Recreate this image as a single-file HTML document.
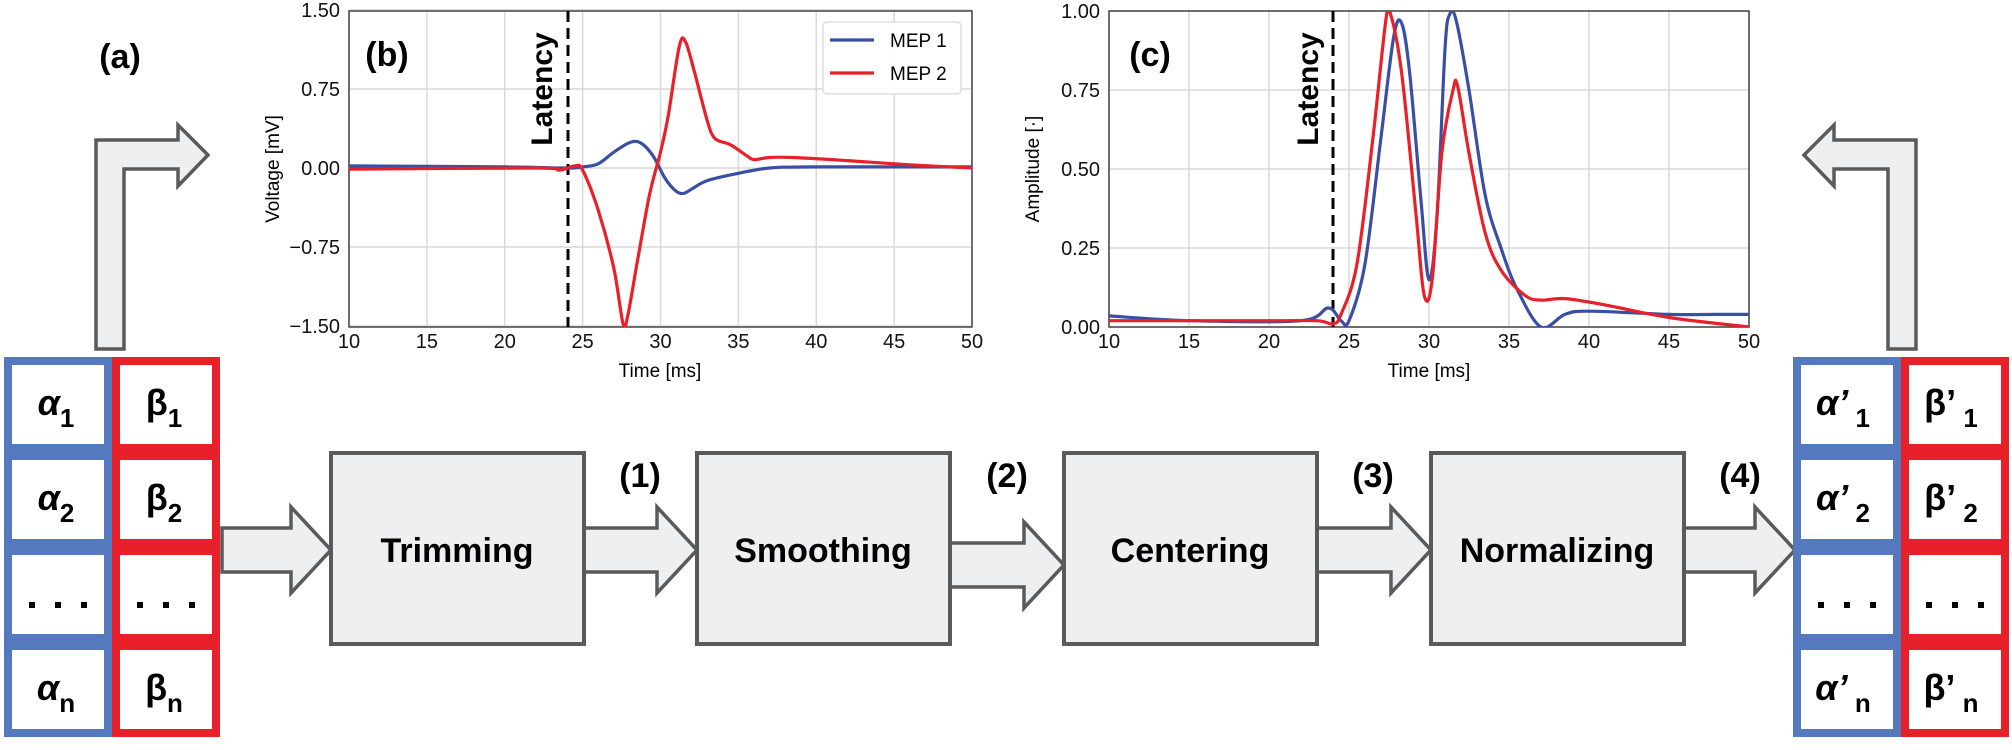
<!DOCTYPE html>
<html><head><meta charset="utf-8"><style>
html,body{margin:0;padding:0;background:#fff;}
svg{display:block;font-family:"Liberation Sans",sans-serif;}
</style></head><body>
<svg id="s" width="2012" height="750" viewBox="0 0 2012 750" xmlns="http://www.w3.org/2000/svg">
<defs>
<clipPath id="cb"><rect x="349" y="11" width="623" height="316"/></clipPath>
<clipPath id="cc"><rect x="1109" y="11" width="640" height="316"/></clipPath>
</defs>
<g id="gridb" stroke="#d9d9d9" stroke-width="1.5"></g>
<g id="gridc" stroke="#d9d9d9" stroke-width="1.5"></g>
<rect x="349" y="11" width="623" height="316" fill="none" stroke="#444" stroke-width="1.5"/>
<rect x="1109" y="11" width="640" height="316" fill="none" stroke="#444" stroke-width="1.5"/>
<g id="ticks" font-size="20" fill="#111"></g>
<text x="660" y="377" font-size="19" text-anchor="middle">Time [ms]</text>
<text x="1429" y="377" font-size="19" text-anchor="middle">Time [ms]</text>
<text transform="translate(279,169) rotate(-90)" font-size="19" text-anchor="middle">Voltage [mV]</text>
<text transform="translate(1039,169) rotate(-90)" font-size="19" text-anchor="middle">Amplitude [·]</text>
<line x1="568" y1="11" x2="568" y2="327" stroke="#000" stroke-width="3" stroke-dasharray="11,6"/>
<line x1="1333" y1="11" x2="1333" y2="327" stroke="#000" stroke-width="3" stroke-dasharray="11,6"/>
<text transform="translate(552,89) rotate(-90)" font-size="30" font-weight="bold" text-anchor="middle">Latency</text>
<text transform="translate(1318,89) rotate(-90)" font-size="30" font-weight="bold" text-anchor="middle">Latency</text>
<text x="387" y="66" font-size="34" font-weight="bold" text-anchor="middle">(b)</text>
<text x="1150" y="66" font-size="34" font-weight="bold" text-anchor="middle">(c)</text>
<text x="120" y="68" font-size="34" font-weight="bold" text-anchor="middle">(a)</text>
<g id="curves" fill="none" stroke-width="3.2" stroke-linejoin="round"></g>
<rect x="823" y="22" width="138" height="72" rx="4" fill="#fff" fill-opacity="0.9" stroke="#ddd" stroke-width="1.5"/>
<line x1="830" y1="40" x2="874" y2="40" stroke="#3a4fa3" stroke-width="3.2"/>
<line x1="830" y1="73" x2="874" y2="73" stroke="#e8202a" stroke-width="3.2"/>
<text x="890" y="47" font-size="19">MEP 1</text>
<text x="890" y="80" font-size="19">MEP 2</text>

<path d="M96,349 L96,140 L178,140 L178,125 L208,155 L178,186 L178,169 L124,169 L124,349 Z" fill="#eeeff1" stroke="#5a5a5a" stroke-width="3.5" stroke-linejoin="miter"/>
<path d="M1916,349 L1916,140 L1834,140 L1834,125 L1804,155 L1834,186 L1834,169 L1888,169 L1888,349 Z" fill="#eeeff1" stroke="#5a5a5a" stroke-width="3.5"/>

<g id="flow"></g>
<g id="tables"></g>
</svg>
<script>
var NS="http://www.w3.org/2000/svg";
function el(p,tag,a,txt){var e=document.createElementNS(NS,tag);for(var k in a)e.setAttribute(k,a[k]);if(txt!=null)e.textContent=txt;p.appendChild(e);return e;}
function xb(t){return 349+(t-10)*15.575;} function yb(v){return 168-v*105.33;}
function xc(t){return 1109+(t-10)*16;} function yc(a){return 327-a*316;}
var gb=document.getElementById('gridb'),gc=document.getElementById('gridc'),tk=document.getElementById('ticks');
for(var t=10;t<=50;t+=5){
 el(gb,'line',{x1:xb(t),y1:11,x2:xb(t),y2:327}); el(gc,'line',{x1:xc(t),y1:11,x2:xc(t),y2:327});
 el(tk,'text',{x:xb(t),y:348,'text-anchor':'middle'},t); el(tk,'text',{x:xc(t),y:348,'text-anchor':'middle'},t);
}
[1.5,0.75,0,-0.75,-1.5].forEach(function(v){el(gb,'line',{x1:349,y1:yb(v),x2:972,y2:yb(v)});
 el(tk,'text',{x:340,y:yb(v)+7,'text-anchor':'end'},(v<0?'\u2212':'')+Math.abs(v).toFixed(2));});
[1,0.75,0.5,0.25,0].forEach(function(v){el(gc,'line',{x1:1109,y1:yc(v),x2:1749,y2:yc(v)});
 el(tk,'text',{x:1100,y:yc(v)+7,'text-anchor':'end'},v.toFixed(2));});
function smooth(pts){var d='M'+pts[0][0].toFixed(1)+','+pts[0][1].toFixed(1);
 for(var i=0;i<pts.length-1;i++){var p0=pts[Math.max(0,i-1)],p1=pts[i],p2=pts[i+1],p3=pts[Math.min(pts.length-1,i+2)];
 var c1=[p1[0]+(p2[0]-p0[0])/6,p1[1]+(p2[1]-p0[1])/6],c2=[p2[0]-(p3[0]-p1[0])/6,p2[1]-(p3[1]-p1[1])/6];
 d+=' C'+c1[0].toFixed(1)+','+c1[1].toFixed(1)+' '+c2[0].toFixed(1)+','+c2[1].toFixed(1)+' '+p2[0].toFixed(1)+','+p2[1].toFixed(1);}
 return d;}
var cv=document.getElementById('curves');
var B1=[[10,0.02],[20,0.01],[24,0.0],[25,0.01],[26,0.04],[27,0.15],[28,0.24],[28.7,0.24],[29.5,0.12],[30.3,-0.1],[31,-0.22],[31.5,-0.24],[32,-0.2],[33,-0.12],[35,-0.05],[37,0],[40,0.01],[50,0.01]];
var B2=[[10,-0.01],[22,0.0],[23.5,-0.02],[24.5,0.02],[25,-0.02],[26,-0.4],[27,-0.95],[27.6,-1.48],[27.9,-1.4],[28.5,-0.9],[29.3,-0.25],[30,0.15],[30.5,0.5],[31.2,1.15],[31.6,1.2],[32.2,0.9],[33,0.45],[33.5,0.28],[34.5,0.22],[35.5,0.12],[36,0.08],[37,0.1],[38.5,0.1],[42,0.07],[46,0.03],[50,0.0]];
var C1=[[10,0.035],[15,0.02],[22,0.02],[23.7,0.06],[24.5,0.02],[25,0.02],[26,0.2],[27,0.6],[27.8,0.92],[28.3,0.96],[28.8,0.8],[29.5,0.4],[30,0.15],[30.5,0.35],[31,0.88],[31.3,0.99],[31.7,0.97],[32.5,0.75],[33.5,0.42],[34.5,0.25],[35.5,0.12],[37,0.0],[38.5,0.04],[40,0.05],[45,0.04],[48,0.04],[50,0.04]];
var C2=[[10,0.02],[20,0.02],[23,0.02],[24,0.01],[24.5,0.04],[25.5,0.2],[26.5,0.6],[27.3,0.97],[27.6,0.99],[28.3,0.8],[29.2,0.35],[29.7,0.1],[30.2,0.15],[30.8,0.55],[31.5,0.75],[31.8,0.76],[32.5,0.55],[33.5,0.3],[34.5,0.18],[36,0.1],[37,0.085],[38.5,0.09],[41,0.07],[45,0.03],[50,0.0]];
el(cv,'path',{d:smooth(B1.map(function(p){return[xb(p[0]),yb(p[1])]})),stroke:'#3a4fa3','clip-path':'url(#cb)'});
el(cv,'path',{d:smooth(B2.map(function(p){return[xb(p[0]),yb(p[1])]})),stroke:'#e8202a','clip-path':'url(#cb)'});
el(cv,'path',{d:smooth(C1.map(function(p){return[xc(p[0]),yc(p[1])]})),stroke:'#3a4fa3','clip-path':'url(#cc)'});
el(cv,'path',{d:smooth(C2.map(function(p){return[xc(p[0]),yc(p[1])]})),stroke:'#e8202a','clip-path':'url(#cc)'});
var fl=document.getElementById('flow');
function arrow(x0,x1,yc){var hb=x1-40;
 el(fl,'path',{d:'M'+x0+','+(yc-22)+' L'+hb+','+(yc-22)+' L'+hb+','+(yc-43)+' L'+x1+','+yc+' L'+hb+','+(yc+43)+' L'+hb+','+(yc+22)+' L'+x0+','+(yc+22)+' Z',fill:'#eeeff1',stroke:'#5a5a5a','stroke-width':3.5});}
arrow(222,331,550);arrow(584,697,550);arrow(949,1064,565);arrow(1315,1431,550);arrow(1682,1795,550);
var bx=[[331,'Trimming'],[697,'Smoothing'],[1064,'Centering'],[1431,'Normalizing']];
bx.forEach(function(b){el(fl,'rect',{x:b[0],y:453,width:253,height:191,fill:'#eeeff1',stroke:'#5a5a5a','stroke-width':4});
 el(fl,'text',{x:b[0]+126,y:562,'font-size':34,'font-weight':'bold','text-anchor':'middle'},b[1]);});
[[640,'(1)'],[1007,'(2)'],[1373,'(3)'],[1740,'(4)']].forEach(function(l){el(fl,'text',{x:l[0],y:487,'font-size':34,'font-weight':'bold','text-anchor':'middle'},l[1]);});
var tb=document.getElementById('tables');
function table(x0,prime){
 var rows=[357,452,547,642];
 var cols=[[x0,'#5479bf','\u03b1'],[x0+108,'#e8202a','\u03b2']];
 cols.forEach(function(c){
  rows.forEach(function(r,i){el(tb,'rect',{x:c[0]+4,y:r+4,width:100,height:87,fill:'#fff',stroke:c[1],'stroke-width':8});});
 });
 cols.forEach(function(c,ci){
  var subs=['1','2',null,'n'];
  rows.forEach(function(r,i){
   var cx=c[0]+54;
   if(subs[i]==null){
     [-26,0,26].forEach(function(dx){el(tb,'rect',{x:cx+dx-3,y:r+55,width:6,height:6,fill:'#000'});});
     return;}
   var t=el(tb,'text',{x:cx-(prime?4:2),y:r+58,'font-size':36,'font-weight':'bold','text-anchor':'middle','font-style':ci==0?'italic':'normal'});
   var a=document.createElementNS(NS,'tspan');a.textContent=c[2]+(prime?'\u2019':'');t.appendChild(a);
   var b=document.createElementNS(NS,'tspan');b.setAttribute('dy','12');b.setAttribute('font-size','26');b.setAttribute('font-style','normal');b.textContent=(prime?' ':'')+subs[i];t.appendChild(b);
  });
 });
}
table(4,false);table(1793,true);
</script>
</body></html>
